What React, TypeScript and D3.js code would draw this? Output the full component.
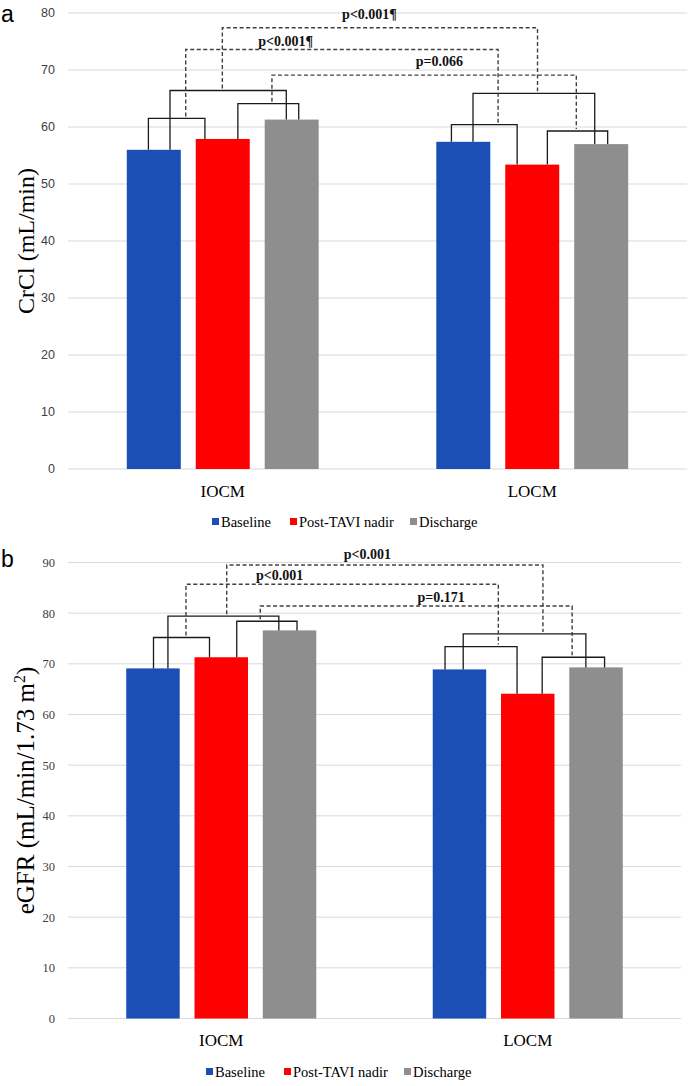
import React from "react";
import * as d3 from "d3";

const categories = ["IOCM", "LOCM"];
const seriesNames = ["Baseline", "Post-TAVI nadir", "Discharge"];
const seriesColors = ["#1b4fb6", "#ff0000", "#8e8e8e"];

// Panel a: CrCl
const crclIOCM = [56.0, 57.9, 61.3];
const crclLOCM = [57.4, 53.4, 57.0];
const crclTicks = [0, 10, 20, 30, 40, 50, 60, 70, 80];
// within-group brackets: [fromSeries, toSeries, level]
const crclBracketsIOCM = [[0, 1, 61.5], [0, 2, 66.4], [1, 2, 64.1]];
const crclBracketsLOCM = [[0, 1, 60.4], [0, 2, 65.9], [1, 2, 59.3]];
// between-group comparisons: [bracketIndex, level, label]
const crclCompare = [[1, 77.4, "p<0.001¶"], [0, 73.6, "p<0.001¶"], [2, 69.1, "p=0.066"]];

// Panel b: eGFR
const egfrIOCM = [69.1, 71.3, 76.6];
const egfrLOCM = [68.9, 64.1, 69.3];
const egfrTicks = [0, 10, 20, 30, 40, 50, 60, 70, 80, 90];
const egfrBracketsIOCM = [[0, 1, 75.2], [0, 2, 79.4], [1, 2, 78.4]];
const egfrBracketsLOCM = [[0, 1, 73.4], [0, 2, 75.9], [1, 2, 71.3]];
const egfrCompare = [[1, 89.5, "p<0.001"], [0, 85.7, "p<0.001"], [2, 81.4, "p=0.171"]];

// styling: leg positions (fraction of bar width) and dashed-connector positions
const legA = {
  IOCM: [[0.4, 0.17], [0.8, 0.4], [0.78, 0.63]],
  LOCM: [[0.28, 0.22], [0.68, 0.38], [0.78, 0.62]],
};
const legB = {
  IOCM: [[0.51, 0.28], [0.78, 0.3], [0.79, 0.64]],
  LOCM: [[0.23, 0.3], [0.57, 0.31], [0.77, 0.66]],
};
const dashFracA = { IOCM: [0.66, 0.45, 0.56], LOCM: [0.71, 0.53, 0.48] };
const dashFracB = { IOCM: [0.58, 0.53, 0.39], LOCM: [0.74, 0.65, 0.48] };

const SERIF = "'Liberation Serif', 'Times New Roman', serif";
const SANS = "'Liberation Sans', Arial, sans-serif";

type PanelProps = {
  top: number;
  bottom: number;
  x0: number;
  x1: number;
  yMax: number;
  ticks: number[];
  values: number[][];
  brackets: number[][][];
  compare: (number | string)[][];
  legs: { IOCM: number[][]; LOCM: number[][] };
  dashFrac: { IOCM: number[]; LOCM: number[] };
  labelFrac: number[];
  labelOffset: number[];
  tickFont: string;
  letter: string;
  letterY: number;
  yTitle: React.ReactNode;
  yTitleSize: number;
  catY: number;
  legendY: number;
  legendX: number;
};

function Panel(p: PanelProps) {
  const y = d3.scaleLinear().domain([0, p.yMax]).range([p.bottom, p.top]);
  const xCat = d3.scaleBand<string>().domain(categories).range([p.x0, p.x1]).padding(0);
  const groupW = xCat.bandwidth() * 0.62;
  const xSer = d3
    .scaleBand<number>()
    .domain([0, 1, 2])
    .range([0, groupW])
    .paddingInner(0.217)
    .paddingOuter(0);
  const barX = (ci: number, si: number) =>
    (xCat(categories[ci]) as number) + xCat.bandwidth() / 2 - groupW / 2 + (xSer(si) as number);
  const bw = xSer.bandwidth();

  const bracketGeom = categories.map((cat, ci) => {
    const key = cat as "IOCM" | "LOCM";
    return p.brackets[ci].map((b, bi) => {
      const [s0, s1, lvl] = b;
      const [f0, f1] = p.legs[key][bi];
      const xa = barX(ci, s0) + f0 * bw;
      const xb = barX(ci, s1) + f1 * bw;
      const yl = y(lvl);
      return {
        xa,
        xb,
        yl,
        ya: y(p.values[ci][s0]),
        yb: y(p.values[ci][s1]),
        xm: xa + (xb - xa) * p.dashFrac[key][bi],
      };
    });
  });

  const legendSteps = [0, 78, 198];

  return (
    <g>
      <text x={1} y={p.letterY} fontFamily={SANS} fontSize={23} fill="#000">
        {p.letter}
      </text>
      {p.ticks.map((t) => (
        <g key={t}>
          <line x1={p.x0} x2={p.x1} y1={y(t)} y2={y(t)} stroke="#d9d9d9" strokeWidth={1} />
          <text
            x={55}
            y={y(t)}
            dy="0.35em"
            textAnchor="end"
            fontFamily={p.tickFont}
            fontSize={12.5}
            fill="#404040"
          >
            {t}
          </text>
        </g>
      ))}
      <text
        transform={`translate(34, ${(p.top + p.bottom) / 2}) rotate(-90)`}
        textAnchor="middle"
        fontFamily={SERIF}
        fontSize={p.yTitleSize}
        fill="#000"
      >
        {p.yTitle}
      </text>
      {categories.map((cat, ci) =>
        p.values[ci].map((v, si) => (
          <rect
            key={cat + si}
            x={barX(ci, si)}
            y={y(v)}
            width={bw}
            height={y(0) - y(v)}
            fill={seriesColors[si]}
          />
        ))
      )}
      {categories.map((cat) => (
        <text
          key={cat}
          x={(xCat(cat) as number) + xCat.bandwidth() / 2}
          y={p.catY}
          textAnchor="middle"
          fontFamily={SERIF}
          fontSize={17}
          fill="#000"
        >
          {cat}
        </text>
      ))}
      {bracketGeom.map((bs, ci) =>
        bs.map((g, bi) => (
          <path
            key={`b${ci}${bi}`}
            d={`M${g.xa},${g.ya}V${g.yl}H${g.xb}V${g.yb}`}
            fill="none"
            stroke="#1a1a1a"
            strokeWidth={1.3}
          />
        ))
      )}
      {p.compare.map((c, k) => {
        const bi = c[0] as number;
        const lvl = y(c[1] as number);
        const a = bracketGeom[0][bi];
        const b = bracketGeom[1][bi];
        const lxp = a.xm + (b.xm - a.xm) * p.labelFrac[k];
        return (
          <g key={`c${k}`}>
            <path
              d={`M${a.xm},${a.yl - 2}V${lvl}H${b.xm}V${b.yl - 2}`}
              fill="none"
              stroke="#404040"
              strokeWidth={1.4}
              strokeDasharray="4 2.5"
            />
            <text
              x={lxp}
              y={lvl - p.labelOffset[k]}
              textAnchor="middle"
              fontFamily={SERIF}
              fontWeight="bold"
              fontSize={14}
              fill="#111"
            >
              {c[2] as string}
            </text>
          </g>
        );
      })}
      {seriesNames.map((n, i) => {
        const x = p.legendX + legendSteps[i];
        return (
          <g key={n}>
            <rect x={x} y={p.legendY - 4} width={7} height={7} fill={seriesColors[i]} />
            <text
              x={x + 9}
              y={p.legendY}
              dy="0.35em"
              fontFamily={SERIF}
              fontSize={14.5}
              fill="#000"
            >
              {n}
            </text>
          </g>
        );
      })}
    </g>
  );
}

export default function App() {
  return (
    <svg
      width={694}
      height={1086}
      style={{ position: "absolute", left: 0, top: 0, background: "#fff" }}
    >
      <rect width={694} height={1086} fill="#fff" />
      <Panel
        top={13}
        bottom={469}
        x0={68}
        x1={687}
        yMax={80}
        ticks={crclTicks}
        values={[crclIOCM, crclLOCM]}
        brackets={[crclBracketsIOCM, crclBracketsLOCM]}
        compare={crclCompare}
        legs={legA}
        dashFrac={dashFracA}
        labelFrac={[0.467, 0.32, 0.55]}
        labelOffset={[8.5, 3.5, 9]}
        tickFont={SANS}
        letter="a"
        letterY={22}
        yTitle="CrCl (mL/min)"
        yTitleSize={24}
        catY={497}
        legendY={522}
        legendX={212}
      />
      <Panel
        top={562.5}
        bottom={1018.5}
        x0={68}
        x1={681}
        yMax={90}
        ticks={egfrTicks}
        values={[egfrIOCM, egfrLOCM]}
        brackets={[egfrBracketsIOCM, egfrBracketsLOCM]}
        compare={egfrCompare}
        legs={legB}
        dashFrac={dashFracB}
        labelFrac={[0.445, 0.3, 0.58]}
        labelOffset={[6, 4, 4]}
        tickFont={SERIF}
        letter="b"
        letterY={567}
        yTitle={
          <>
            eGFR (mL/min/1.73 m
            <tspan fontSize={16} dy={-9}>
              2
            </tspan>
            <tspan dy={9}>)</tspan>
          </>
        }
        yTitleSize={25}
        catY={1046}
        legendY={1072}
        legendX={206}
      />
    </svg>
  );
}
